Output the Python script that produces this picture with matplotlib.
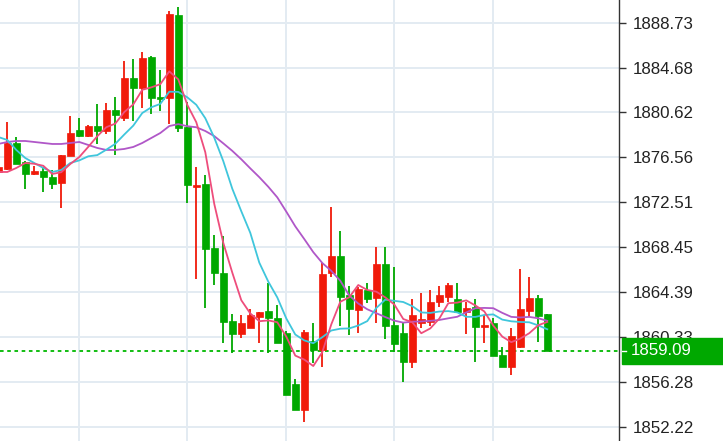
import numpy as np
import pandas as pd
import matplotlib
matplotlib.use("Agg")
import matplotlib.pyplot as plt
from matplotlib.patches import Rectangle

# OHLC (oldest -> newest)
opens = [1875.24, 1875.51, 1877.86, 1876.14, 1875.06, 1875.33, 1874.79, 1874.24, 1876.68, 1879.03,
         1878.49, 1879.39, 1878.94, 1880.84, 1880.12, 1883.73, 1882.83, 1885.63, 1882.02, 1881.93,
         1889.43, 1879.30, 1873.88, 1874.15, 1868.37, 1866.11, 1861.77, 1860.60, 1861.14, 1862.13,
         1862.68, 1862.04, 1860.69, 1856.08, 1853.73, 1859.97, 1859.15, 1866.11, 1867.65, 1864.12,
         1862.77, 1864.57, 1863.85, 1866.92, 1861.41, 1860.69, 1858.07, 1861.59, 1861.68, 1863.49,
         1863.94, 1863.76, 1862.59, 1863.04, 1861.23, 1861.59, 1858.70, 1857.62, 1859.42, 1862.68,
         1863.85, 1862.41]
highs = [1875.87, 1879.76, 1878.40, 1876.23, 1875.78, 1875.69, 1875.42, 1876.77, 1880.30, 1880.12,
         1879.49, 1881.38, 1881.47, 1882.02, 1885.27, 1885.45, 1886.08, 1885.72, 1884.46, 1889.79,
         1890.15, 1881.56, 1875.69, 1874.97, 1869.54, 1869.45, 1862.41, 1862.31, 1862.86, 1862.59,
         1865.21, 1863.22, 1860.87, 1856.53, 1860.96, 1861.59, 1867.01, 1872.07, 1869.91, 1864.94,
         1864.85, 1865.21, 1868.46, 1868.46, 1866.65, 1861.59, 1863.76, 1864.30, 1864.57, 1864.94,
         1865.21, 1865.21, 1863.49, 1863.76, 1862.31, 1862.04, 1859.42, 1861.14, 1866.47, 1865.75,
         1864.12, 1862.41]
lows = [1875.06, 1875.42, 1875.96, 1873.70, 1874.97, 1873.43, 1873.70, 1871.98, 1876.68, 1878.40,
        1878.40, 1877.77, 1878.67, 1876.77, 1879.85, 1879.85, 1881.02, 1880.48, 1880.75, 1879.58,
        1878.85, 1872.44, 1865.57, 1862.95, 1865.03, 1859.78, 1858.88, 1860.24, 1861.14, 1859.78,
        1858.88, 1859.78, 1855.09, 1853.73, 1852.65, 1857.98, 1857.62, 1865.75, 1861.32, 1860.51,
        1860.69, 1863.40, 1861.59, 1860.15, 1858.97, 1856.26, 1857.53, 1861.14, 1861.32, 1863.04,
        1863.49, 1862.59, 1860.60, 1858.07, 1859.78, 1858.61, 1857.62, 1856.89, 1859.33, 1862.13,
        1859.87, 1859.09]
closes = [1875.69, 1877.86, 1875.96, 1875.06, 1875.33, 1874.79, 1874.15, 1876.77, 1878.76, 1878.49,
          1879.39, 1878.94, 1880.84, 1880.39, 1883.73, 1882.83, 1885.54, 1881.93, 1881.83, 1889.52,
          1879.21, 1874.06, 1874.06, 1868.28, 1866.11, 1861.68, 1860.60, 1861.59, 1862.31, 1862.59,
          1862.04, 1859.78, 1855.09, 1853.73, 1860.78, 1859.15, 1866.02, 1867.65, 1863.94, 1862.86,
          1864.66, 1863.76, 1866.92, 1861.32, 1859.69, 1858.07, 1862.31, 1861.95, 1863.49, 1864.12,
          1865.03, 1862.59, 1862.95, 1861.23, 1861.41, 1858.61, 1857.62, 1860.42, 1862.86, 1863.85,
          1862.22, 1859.09]

# moving-average values before a full window is available
ma5_head = [1875.24, 1875.24, 1875.60, 1876.05]
ma10_head = [1878.40, 1878.13, 1877.23, 1876.50, 1876.05, 1875.60, 1875.24, 1875.42, 1876.05]
ma20_head = [1877.77, 1877.95, 1878.04, 1878.04, 1877.95, 1877.86, 1877.77, 1877.77, 1877.86, 1877.95,
             1877.68, 1877.41, 1877.23, 1877.23, 1877.32, 1877.50, 1877.86, 1878.31, 1878.76]

ytick_vals = [1852.22, 1856.28, 1860.33, 1864.39, 1868.45, 1872.51, 1876.56, 1880.62, 1884.68, 1888.73]
grid_x = [9, 21, 32, 44, 55]
last_price = 1859.09

UP = "#f01a0a"
DOWN = "#00a800"

o = np.array(opens); h = np.array(highs); l = np.array(lows); c = np.array(closes)
x = np.arange(len(c))

def ma(n, head):
    m = pd.Series(c).rolling(n).mean().to_numpy()
    m[:len(head)] = head
    return m

ma5 = ma(5, ma5_head); ma10 = ma(10, ma10_head); ma20 = ma(20, ma20_head)

plt.rcParams['font.family'] = ['Liberation Sans', 'DejaVu Sans']
fig = plt.figure(figsize=(7.23, 4.41), dpi=100)
ax = fig.add_axes([0, 0, 619/723, 1])

ax.set_xlim(0.19, 68.97)
ax.set_ylim(1850.93, 1890.78)

ax.set_yticks(ytick_vals)
ax.set_yticklabels([f"{v:.2f}" for v in ytick_vals])
ax.set_xticks(grid_x)
ax.yaxis.tick_right()
ax.tick_params(axis='y', length=5, width=1, color="#333333", labelsize=12.2, labelcolor="#222222", pad=5)
ax.tick_params(axis='x', length=0, labelbottom=False)
ax.grid(True, color="#e3ebf2", linewidth=1.4)
ax.set_axisbelow(True)
for s in ["left", "top", "bottom"]:
    ax.spines[s].set_visible(False)
ax.spines["right"].set_color("#333333")
ax.spines["right"].set_linewidth(1)

cols = np.where(c >= o, UP, DOWN)
ax.vlines(x, l, h, colors=cols, linewidth=1.3, zorder=2)
body = np.abs(c - o)
body = np.maximum(body, 0.18)
bottom = np.minimum(o, c)
ax.bar(x, body, 0.8, bottom=bottom, color=cols, edgecolor=cols, linewidth=0.5, zorder=3)

ax.plot(x, ma20, color="#b057c8", linewidth=1.3, zorder=4)
ax.plot(x, ma10, color="#3fc6dc", linewidth=1.3, zorder=4)
ax.plot(x, ma5, color="#ee4d7c", linewidth=1.3, zorder=4)

ax.axhline(last_price, color="#00b800", linewidth=1.3, linestyle=(0, (2, 2)), zorder=1)

# price label on the right axis
y_fig = (last_price - 1850.93) / (1890.78 - 1850.93)
fig.add_artist(Rectangle((622/723, y_fig - 13/441), 101/723, 26/441,
                         transform=fig.transFigure, color="#00a800", zorder=5))
fig.add_artist(plt.Line2D([622/723, 626/723], [y_fig, y_fig], transform=fig.transFigure,
                          color="white", linewidth=1, zorder=6))
fig.text(631/723, y_fig, f"{last_price:.2f}", color="white", fontsize=12.2,
         va="center", ha="left", zorder=6)

fig.savefig("out.png", dpi=100)
